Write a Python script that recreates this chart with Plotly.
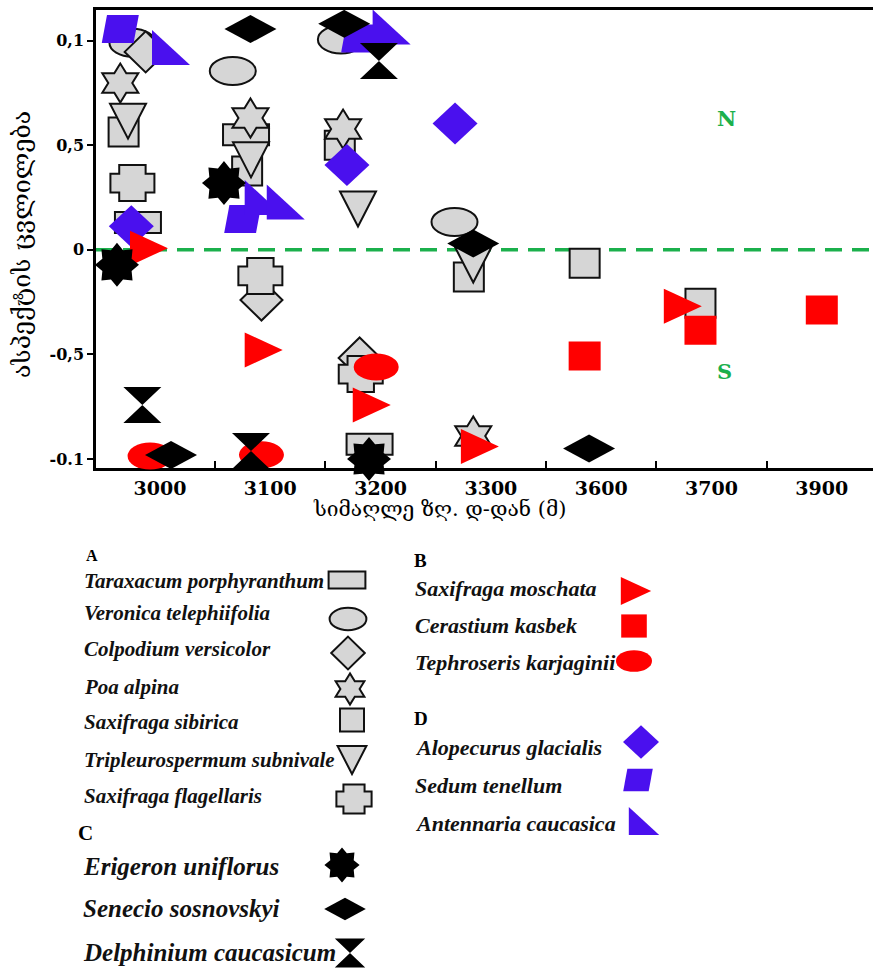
import math
import plotly.graph_objects as go

# ---------------------------------------------------------------- data
ALTITUDES = ["3000", "3100", "3200", "3300", "3600", "3700", "3900"]
Y_TICKS = [1, 0.5, 0, -0.5, -1]
Y_TICK_TEXT = ["0,1", "0,5", "0", "-0,5", "-0.1"]

# group A
taraxacum_alt = ["3000", "3100", "3200"]
taraxacum_val = [0.13, 0.55, -0.93]
taraxacum_shift = [-0.20, -0.22, -0.10]

veronica_alt = ["3000", "3100", "3200", "3300"]
veronica_val = [0.99, 0.855, 1.005, 0.133]
veronica_shift = [-0.25, -0.34, -0.36, -0.33]

colpodium_alt = ["3000", "3100", "3200"]
colpodium_val = [0.946, -0.24, -0.517]
colpodium_shift = [-0.13, -0.08, -0.19]

poa_alt = ["3000", "3100", "3200", "3300"]
poa_val = [0.797, 0.63, 0.577, -0.89]
poa_shift = [-0.36, -0.18, -0.34, -0.16]

sibirica_alt = ["3000", "3100", "3200", "3300", "3600", "3700"]
sibirica_val = [0.563, 0.377, 0.5, -0.13, -0.064, -0.255]
sibirica_shift = [-0.33, -0.21, -0.37, -0.20, -0.15, -0.10]

tripleurospermum_alt = ["3000", "3100", "3200", "3300"]
tripleurospermum_val = [0.615, 0.43, 0.195, -0.073]
tripleurospermum_shift = [-0.29, -0.175, -0.205, -0.16]

flagellaris_alt = ["3000", "3100", "3200"]
flagellaris_val = [0.319, -0.125, -0.594]
flagellaris_shift = [-0.25, -0.09, -0.18]

# group D
alopecurus_alt = ["3000", "3200", "3300"]
alopecurus_val = [0.113, 0.405, 0.604]
alopecurus_shift = [-0.26, -0.305, -0.325]

sedum_alt = ["3000", "3100", "3200"]
sedum_val = [1.055, 0.147, 1.01]
sedum_shift = [-0.36, -0.25, -0.19]

antennaria_alt = ["3000", "3100", "3100", "3200"]
antennaria_val = [0.967, 0.25, 0.228, 1.065]
antennaria_shift = [0.10, -0.06, 0.14, 0.10]

# group B
moschata_alt = ["3000", "3100", "3200", "3300", "3700"]
moschata_val = [0.008, -0.479, -0.742, -0.94, -0.27]
moschata_shift = [-0.10, -0.06, -0.08, -0.10, -0.26]

cerastium_alt = ["3600", "3700", "3900"]
cerastium_val = [-0.508, -0.385, -0.288]
cerastium_shift = [-0.15, -0.10, 0.0]

tephroseris_alt = ["3000", "3100", "3200"]
tephroseris_val = [-0.986, -0.98, -0.56]
tephroseris_shift = [-0.09, -0.08, -0.04]

# group C
erigeron_alt = ["3000", "3100", "3200"]
erigeron_val = [-0.072, 0.319, -1.0]
erigeron_shift = [-0.39, -0.42, -0.105]

senecio_alt = ["3000", "3100", "3200", "3300", "3600"]
senecio_val = [-0.981, 1.055, 1.08, 0.03, -0.95]
senecio_shift = [0.10, -0.18, -0.33, -0.16, -0.11]

delphinium_alt = ["3000", "3100", "3200"]
delphinium_val = [-0.742, -0.962, 0.902]
delphinium_shift = [-0.16, -0.175, -0.015]

X_TITLE = "სიმაღლე ზღ. დ-დან (მ)"
Y_TITLE = "ასპექტის ცვლილება"

# ---------------------------------------------------------------- styles
GREY = "#d6d6d6"
RED = "#ff0000"
BLUE = "#4a10ee"
BLACK = "#000000"
GREEN = "#1bb04c"

# (name, altitudes, values, shifts, symbol, width px, height px, fill, outlined)
SERIES = [
    ("Taraxacum porphyranthum", taraxacum_alt, taraxacum_val, taraxacum_shift, "rect", 46, 21, GREY, True),
    ("Veronica telephiifolia", veronica_alt, veronica_val, veronica_shift, "ellipse", 46, 28, GREY, True),
    ("Colpodium versicolor", colpodium_alt, colpodium_val, colpodium_shift, "diamond", 42, 41, GREY, True),
    ("Saxifraga sibirica", sibirica_alt, sibirica_val, sibirica_shift, "rect", 30, 29, GREY, True),
    ("Poa alpina", poa_alt, poa_val, poa_shift, "hexagram", 36, 39, GREY, True),
    ("Tripleurospermum subnivale", tripleurospermum_alt, tripleurospermum_val, tripleurospermum_shift, "tri-down", 36, 35, GREY, True),
    ("Saxifraga flagellaris", flagellaris_alt, flagellaris_val, flagellaris_shift, "cross", 44, 36, GREY, True),
    ("Alopecurus glacialis", alopecurus_alt, alopecurus_val, alopecurus_shift, "diamond", 45, 42, BLUE, False),
    ("Sedum tenellum", sedum_alt, sedum_val, sedum_shift, "parallelogram", 37, 28, BLUE, False),
    ("Antennaria caucasica", antennaria_alt, antennaria_val, antennaria_shift, "tri-sw", 38, 35, BLUE, False),
    ("Saxifraga moschata", moschata_alt, moschata_val, moschata_shift, "tri-right", 38, 35, RED, False),
    ("Cerastium kasbek", cerastium_alt, cerastium_val, cerastium_shift, "rect", 32, 29, RED, False),
    ("Tephroseris karjaginii", tephroseris_alt, tephroseris_val, tephroseris_shift, "ellipse", 45, 27, RED, False),
    ("Erigeron uniflorus", erigeron_alt, erigeron_val, erigeron_shift, "star8", 44, 44, BLACK, False),
    ("Senecio sosnovskyi", senecio_alt, senecio_val, senecio_shift, "diamond", 52, 28, BLACK, False),
    ("Delphinium caucasicum", delphinium_alt, delphinium_val, delphinium_shift, "hourglass", 38, 36, BLACK, False),
]

# legend block: headers (text, x px, y px, size) and rows
# (species, text x px, text y px, marker x px, marker y px, font size)
LEGEND_HEADERS = [("A", 84, 555, 16), ("B", 412, 560, 19), ("C", 76, 833, 21), ("D", 412, 718, 19)]
LEGEND_ROWS = [
    ("Taraxacum porphyranthum", 82, 581, 347, 580, 21),
    ("Veronica telephiifolia", 82, 613, 348, 619, 21),
    ("Colpodium versicolor", 82, 649, 348, 653, 21),
    ("Poa alpina", 82, 687, 350, 689, 21),
    ("Saxifraga sibirica", 82, 722, 352, 720, 21),
    ("Tripleurospermum subnivale", 82, 760, 352, 760, 21),
    ("Saxifraga flagellaris", 82, 796, 354, 799, 21),
    ("Erigeron uniflorus", 81, 866, 342, 865, 25),
    ("Senecio sosnovskyi", 81, 908, 345, 909, 25),
    ("Delphinium caucasicum", 81, 952, 350, 953, 25),
    ("Saxifraga moschata", 413, 588, 636, 591, 22),
    ("Cerastium kasbek", 413, 625, 634, 626, 22),
    ("Tephroseris karjaginii", 413, 662, 634, 661, 22),
    ("Alopecurus glacialis", 413, 747, 641, 742, 22),
    ("Sedum tenellum", 413, 785, 638, 780, 22),
    ("Antennaria caucasica", 413, 823, 644, 821, 22),
]
LEGEND_SCALE = 0.8

W, H = 873, 971
ML, MT = 96, 10
PLOT_BOTTOM = 468
X_RANGE = [-0.5802, 6.4642]
Y_RANGE = [-1.0430, 1.1463]
# markers are allowed to spill a little below the axis line
SPILL = 24


def paper_x(px):
    return (px - ML) / (W - ML)


def paper_y(py):
    return (H - py) / (H - MT)


def poly(points):
    return "M " + " L ".join(f"{x:.2f},{y:.2f}" for x, y in points) + " Z"


def star(n, rx, ry, inner):
    pts = []
    for k in range(2 * n):
        a = math.radians(90 + k * 180 / n)
        r = 1.0 if k % 2 == 0 else inner
        pts.append((r * rx * math.cos(a), r * ry * math.sin(a)))
    return poly(pts)


def geometry(symbol, w, h):
    """Shape geometry in pixels around the anchor (y points up)."""
    hw, hh = w / 2, h / 2
    if symbol == "rect":
        return dict(type="rect", x0=-hw, x1=hw, y0=-hh, y1=hh)
    if symbol == "ellipse":
        return dict(type="circle", x0=-hw, x1=hw, y0=-hh, y1=hh)
    if symbol == "diamond":
        path = poly([(0, hh), (hw, 0), (0, -hh), (-hw, 0)])
    elif symbol == "hexagram":
        path = star(6, hw / math.cos(math.radians(30)), hh, 1 / math.sqrt(3))
    elif symbol == "star8":
        path = star(8, hw, hh, 0.72)
    elif symbol == "tri-down":
        path = poly([(-hw, hh), (hw, hh), (0, -hh)])
    elif symbol == "tri-right":
        path = poly([(-hw, hh), (hw, 0), (-hw, -hh)])
    elif symbol == "tri-sw":
        path = poly([(-hw, hh), (hw, -hh), (-hw, -hh)])
    elif symbol == "hourglass":
        path = poly([(-hw, hh), (hw, hh), (-hw, -hh), (hw, -hh)])
    elif symbol == "parallelogram":
        s = w * 0.14
        path = poly([(-hw, -hh), (hw - s, -hh), (hw, hh), (-hw + s, hh)])
    elif symbol == "cross":
        cw, bh = w * 0.3, h * 0.26
        path = poly([(-cw, hh), (cw, hh), (cw, bh), (hw, bh), (hw, -bh), (cw, -bh),
                     (cw, -hh), (-cw, -hh), (-cw, -bh), (-hw, -bh), (-hw, bh), (-cw, bh)])
    return dict(type="path", path=path)


def marker_shape(symbol, w, h, fill, outlined, xref, yref, xa, ya):
    shp = geometry(symbol, w, h)
    shp.update(
        xref=xref, yref=yref, xsizemode="pixel", ysizemode="pixel",
        xanchor=xa, yanchor=ya, fillcolor=fill, layer="above",
        line=dict(color="#111111", width=2) if outlined else dict(width=0),
    )
    return shp


fig = go.Figure()
shapes = []

# zero line separating north- and south-facing shifts
shapes.append(dict(type="line", xref="paper", yref="y", x0=0, x1=1, y0=0, y1=0,
                   line=dict(color=GREEN, width=3.5, dash="17px,10px"), layer="above"))

for name, alts, vals, shifts, symbol, w, h, fill, outlined in SERIES:
    xs = [ALTITUDES.index(a) + s for a, s in zip(alts, shifts)]
    fig.add_trace(go.Scatter(
        x=xs, y=vals, mode="markers", name=name, showlegend=False,
        marker=dict(size=max(w, h), opacity=0),
        text=alts, hovertemplate=name + "<br>%{text} მ: %{y}<extra></extra>",
    ))
    # drawn on y2: same scale as y, but a slightly taller clip region
    for x, v in zip(xs, vals):
        shapes.append(marker_shape(symbol, w, h, fill, outlined, "x", "y2", x, v))

# legend block below the chart
style = {s[0]: s[4:] for s in SERIES}
annotations = []
for label, tx, ty, size in LEGEND_HEADERS:
    annotations.append(dict(
        text=label, x=paper_x(tx), y=paper_y(ty), xref="paper", yref="paper",
        xanchor="left", yanchor="middle", showarrow=False,
        font=dict(family="Liberation Serif", size=size, color="black", weight="bold"),
    ))
for name, tx, ty, mx, my, size in LEGEND_ROWS:
    annotations.append(dict(
        text=name, x=paper_x(tx), y=paper_y(ty), xref="paper", yref="paper",
        xanchor="left", yanchor="middle", showarrow=False,
        font=dict(family="Liberation Serif", size=size, color="#111111",
                  weight="bold", style="italic"),
    ))
    symbol, w, h, fill, outlined = style[name]
    shapes.append(marker_shape(symbol, w * LEGEND_SCALE, h * LEGEND_SCALE, fill, outlined,
                               "paper", "paper", paper_x(mx), paper_y(my)))

# aspect labels
for txt, px, py in [("N", 726, 118), ("S", 724, 371)]:
    annotations.append(dict(
        text=txt, x=paper_x(px), y=paper_y(py), xref="paper", yref="paper",
        xanchor="center", yanchor="middle", showarrow=False,
        font=dict(family="DejaVu Serif", size=21, color=GREEN, weight="bold"),
    ))

# axis titles
annotations.append(dict(
    text=X_TITLE, x=paper_x(440), y=paper_y(509), xref="paper", yref="paper",
    xanchor="center", yanchor="middle", showarrow=False,
    font=dict(family="DejaVu Serif, DejaVu Sans", size=21, color="black"),
))
annotations.append(dict(
    text=Y_TITLE, x=paper_x(22), y=paper_y(245), xref="paper", yref="paper",
    xanchor="center", yanchor="middle", textangle=-90, showarrow=False,
    font=dict(family="DejaVu Serif, DejaVu Sans", size=25, color="black"),
))

px_per_unit = (PLOT_BOTTOM - MT) / (Y_RANGE[1] - Y_RANGE[0])

fig.update_layout(
    width=W, height=H, autosize=False,
    margin=dict(l=ML, r=0, t=MT, b=0),
    paper_bgcolor="white", plot_bgcolor="rgba(0,0,0,0)",
    shapes=shapes, annotations=annotations, showlegend=False,
    xaxis=dict(
        range=X_RANGE, tickmode="array", tickvals=list(range(len(ALTITUDES))),
        ticktext=ALTITUDES, ticks="", showgrid=False, zeroline=False,
        showline=True, linecolor="black", linewidth=2.5, mirror=True,
        tickfont=dict(family="DejaVu Serif", size=19, color="black", weight="bold"),
        ticklabelstandoff=1,
        minor=dict(tickmode="array", tickvals=[i + 0.5 for i in range(len(ALTITUDES) - 1)],
                   ticks="inside", ticklen=7, tickwidth=2, tickcolor="black", showgrid=False),
    ),
    yaxis=dict(
        range=Y_RANGE, domain=[paper_y(PLOT_BOTTOM), 1],
        tickmode="array", tickvals=Y_TICKS, ticktext=Y_TICK_TEXT,
        ticks="outside", ticklen=6, tickwidth=2, tickcolor="black",
        showgrid=False, zeroline=False, showline=True, linecolor="black", linewidth=2.5,
        tickfont=dict(family="DejaVu Serif", size=16, color="black", weight="bold"),
    ),
    yaxis2=dict(
        range=[Y_RANGE[0] - SPILL / px_per_unit, Y_RANGE[1]],
        domain=[paper_y(PLOT_BOTTOM + SPILL), 1], anchor="x",
        visible=False, showgrid=False, zeroline=False, fixedrange=True,
    ),
)

fig.write_html("out.html")
